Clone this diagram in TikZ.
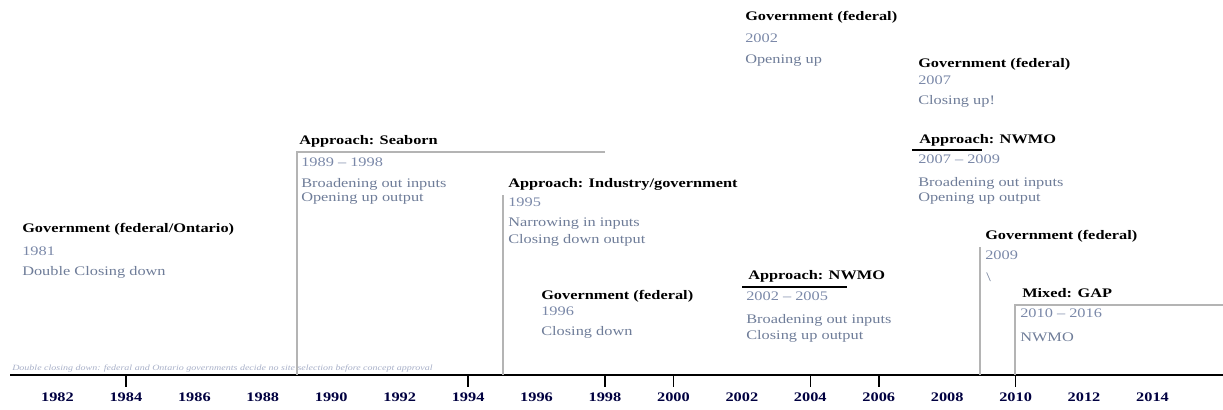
\documentclass[tikz,border=0pt]{standalone}
\usepackage{fontspec}
\setmainfont{Liberation Serif}[FakeStretch=1.25]
\definecolor{yrcol}{HTML}{7A88A8}
\definecolor{dsccol}{HTML}{6E7C98}
\definecolor{linecol}{HTML}{B4B4B4}
\definecolor{notecol}{HTML}{A8B0C8}
\begin{document}
\begin{tikzpicture}[x=0.75pt,y=-0.75pt,
  ttl/.style={anchor=west,inner sep=0pt,font=\bfseries\fontsize{9.8}{11}\selectfont,text=black},
  yr/.style={anchor=west,inner sep=0pt,font=\fontsize{9.8}{11}\selectfont,text=yrcol},
  dsc/.style={anchor=west,inner sep=0pt,font=\fontsize{9.8}{11}\selectfont,text=dsccol},
  guide/.style={draw=linecol,line width=1.2pt},
  uline/.style={draw=black,line width=1.2pt},
  axisline/.style={draw=black,line width=1.5pt},
  tickline/.style={draw=black,line width=1.2pt},
  axlab/.style={inner sep=0pt,font=\bfseries\fontsize{9.8}{11}\selectfont,text=black!75!blue},
  note/.style={anchor=west,inner sep=0pt,font=\fontsize{6}{7}\selectfont,text=notecol}]
\useasboundingbox (0,0) rectangle (1223,410);

% axis
\coordinate (axL) at (10,375);
\coordinate (axR) at (1223,375);
\draw[axisline] (axL) -- (axR);
\foreach \yy in {1982,1984,...,2014}
  \node[axlab] (lab\yy) at ({297+(\yy-1989)*34.22},397) {\yy};
\foreach \yy in {1984,1994,1998,2000,2004,2006,2010}
  \draw[tickline] ({297+(\yy-1989)*34.22},375) -- ({297+(\yy-1989)*34.22},387);

% faint note
\node[note] (note) at (12,369) {\textit{Double closing down: federal and Ontario governments decide no site selection before concept approval}};

% Government (federal/Ontario) 1981
\node[ttl] (g81) at (22,229) {Government (federal/Ontario)};
\node[yr]  (g81y) at (22,251) {1981};
\node[dsc] (g81d) at (22,272) {Double Closing down};

% Approach: Seaborn 1989-1998
\node[ttl] (sea) at (299,141) {Approach: Seaborn};
\coordinate (seaL) at (297,152);
\coordinate (seaR) at (605,152);
\coordinate (seaB) at (297,375);
\draw[guide] (seaR) -- (seaL) -- (seaB);
\node[yr]  (seay) at (301,162) {1989 -- 1998};
\node[dsc] (sead1) at (301,184) {Broadening out inputs};
\node[dsc] (sead2) at (301,199) {Opening up output};

% Approach: Industry/government 1995
\node[ttl] (ind) at (508,184) {Approach: Industry/government};
\coordinate (indT) at (503,195);
\coordinate (indB) at (503,375);
\draw[guide] (indT) -- (indB);
\node[yr]  (indy) at (508,202) {1995};
\node[dsc] (indd1) at (508,224) {Narrowing in inputs};
\node[dsc] (indd2) at (508,240) {Closing down output};

% Government (federal) 1996
\node[ttl] (g96) at (541,296) {Government (federal)};
\node[yr]  (g96y) at (541,311) {1996};
\node[dsc] (g96d) at (541,332) {Closing down};

% Government (federal) 2002
\node[ttl] (g02) at (745,17) {Government (federal)};
\node[yr]  (g02y) at (745,38) {2002};
\node[dsc] (g02d) at (745,61) {Opening up};

% Government (federal) 2007
\node[ttl] (g07) at (918,64) {Government (federal)};
\node[yr]  (g07y) at (918,80) {2007};
\node[dsc] (g07d) at (918,101) {Closing up!};

% Approach: NWMO 2007-2009
\node[ttl] (nw2) at (919,140) {Approach: NWMO};
\coordinate (nw2L) at (912,150);
\coordinate (nw2R) at (982,150);
\draw[uline] (nw2L) -- (nw2R);
\node[yr]  (nw2y) at (918,159) {2007 -- 2009};
\node[dsc] (nw2d1) at (918,183) {Broadening out inputs};
\node[dsc] (nw2d2) at (918,199) {Opening up output};

% Approach: NWMO 2002-2005
\node[ttl] (nw1) at (748,276) {Approach: NWMO};
\coordinate (nw1L) at (742,287);
\coordinate (nw1R) at (847,287);
\draw[uline] (nw1L) -- (nw1R);
\node[yr]  (nw1y) at (746,296) {2002 -- 2005};
\node[dsc] (nw1d1) at (746,320) {Broadening out inputs};
\node[dsc] (nw1d2) at (746,336) {Closing up output};

% Government (federal) 2009
\node[ttl] (g09) at (985,236) {Government (federal)};
\coordinate (g09T) at (980,247);
\coordinate (g09B) at (980,375);
\draw[guide] (g09T) -- (g09B);
\node[yr]  (g09y) at (985,255) {2009};
\node[dsc] (g09d) at (986,277) {\textbackslash};

% Mixed: GAP 2010-2016
\node[ttl] (gap) at (1022,293) {Mixed: GAP};
\coordinate (gapR) at (1223,305);
\coordinate (gapL) at (1015,305);
\coordinate (gapB) at (1015,375);
\draw[guide] (gapR) -- (gapL) -- (gapB);
\node[yr]  (gapy) at (1020,313) {2010 -- 2016};
\node[dsc] (gapd) at (1020,337) {NWMO};
\end{tikzpicture}
\end{document}
